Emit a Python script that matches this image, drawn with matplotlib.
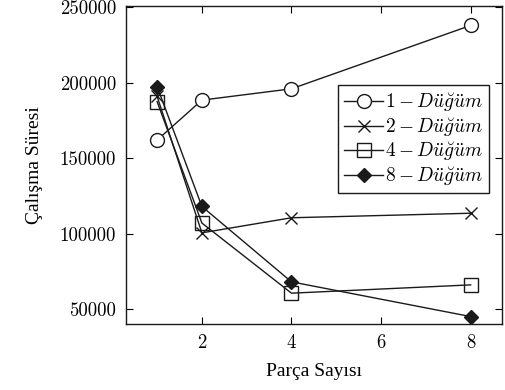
import matplotlib
matplotlib.use("Agg")
import matplotlib.pyplot as plt

plt.rcParams["mathtext.fontset"] = "cm"

# Parça sayısı (x) ve her düğüm sayısı için çalışma süreleri
parts = [1, 2, 4, 8]
node1 = [162000, 188500, 196000, 238000]
node2 = [191000, 100500, 110500, 113500]
node4 = [187500, 107000, 60500, 66000]
node8 = [197500, 118000, 68000, 45000]

labels = [r"$1 - D\ddot{u}\breve{g}\ddot{u}m$",
          r"$2 - D\ddot{u}\breve{g}\ddot{u}m$",
          r"$4 - D\ddot{u}\breve{g}\ddot{u}m$",
          r"$8 - D\ddot{u}\breve{g}\ddot{u}m$"]

xticks = [2, 4, 6, 8]
yticks = [50000, 100000, 150000, 200000, 250000]

LINE = "#1a1a1a"

fig = plt.figure(figsize=(5.05, 3.9), dpi=100)
ax = fig.add_axes([0.249, 0.169, 0.745, 0.816])

ax.plot(parts, node1, color=LINE, lw=1.0, marker="o", ms=10,
        mfc="white", mec=LINE, mew=1.0, label=labels[0])
ax.plot(parts, node2, color=LINE, lw=1.0, marker="x", ms=9,
        mec=LINE, mew=1.0, label=labels[1])
ax.plot(parts, node4, color=LINE, lw=1.0, marker="s", ms=10,
        mfc="none", mec=LINE, mew=1.0, label=labels[2])
ax.plot(parts, node8, color=LINE, lw=1.0, marker="D", ms=7,
        mfc=LINE, mec=LINE, label=labels[3])

ax.set_xlim(0.3, 8.7)
ax.set_ylim(40000, 251000)
ax.set_xticks(xticks)
ax.set_yticks(yticks)
ax.tick_params(direction="in", top=True, right=True, length=5,
               width=0.8, labelsize=13.5, pad=7)
for lab in ax.get_xticklabels() + ax.get_yticklabels():
    lab.set_family("cmr10")
for sp in ax.spines.values():
    sp.set_linewidth(1.0)
    sp.set_color(LINE)

ax.set_xlabel("Parça Sayısı", family="Liberation Serif", fontsize=14, labelpad=8)
ax.set_ylabel("Çalışma Süresi", family="Liberation Serif", fontsize=14, labelpad=12)

leg = ax.legend(loc="upper right", bbox_to_anchor=(0.965, 0.75), fancybox=False,
                edgecolor=LINE, framealpha=1, fontsize=14, handlelength=2.0,
                handletextpad=0.1, labelspacing=0.08, borderpad=0.3,
                borderaxespad=0)
leg.get_frame().set_linewidth(1.0)

fig.savefig("out.png", dpi=100)
